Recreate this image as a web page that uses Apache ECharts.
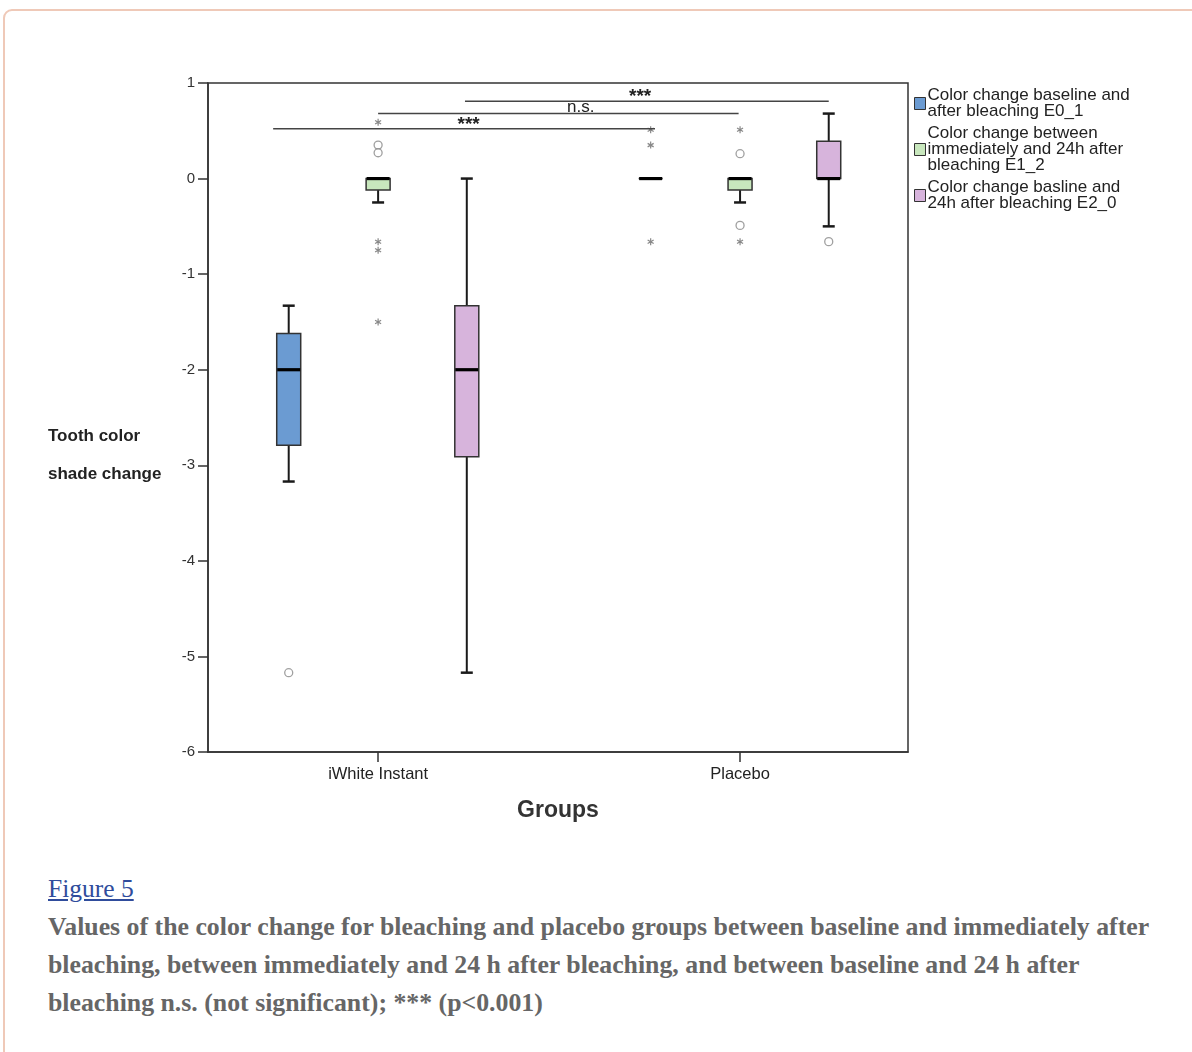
<!DOCTYPE html>
<html><head><meta charset="utf-8">
<script src="https://cdn.jsdelivr.net/npm/echarts@6/dist/echarts.min.js"></script>
<style>
html,body{margin:0;padding:0;background:#fff;width:1192px;height:1052px;overflow:hidden;position:relative;}
#frame{position:absolute;left:3px;top:9px;width:1200px;height:1100px;border:2px solid #efc9b8;border-radius:9px;box-sizing:border-box;}
#chart{position:absolute;left:0;top:0;width:1192px;height:860px;}
#caption{position:absolute;left:48px;top:870px;width:1140px;font-family:"Liberation Serif","Times New Roman",serif;}
#figlink{color:#2f4c9c;text-decoration:underline;font-size:25.5px;line-height:38px;}
#captext{color:#666;font-weight:bold;font-size:25.8px;line-height:38px;white-space:nowrap;}
</style></head>
<body>
<div id="frame"></div>
<div id="chart"></div>
<div id="caption">
<div id="figlink">Figure 5</div>
<div id="captext">Values of the color change for bleaching and placebo groups between baseline and immediately after<br>bleaching, between immediately and 24 h after bleaching, and between baseline and 24 h after<br>bleaching n.s. (not significant); *** (p&lt;0.001)</div>
</div>
<script>
// ---- data ----
const groups = ['iWhite Instant', 'Placebo'];
const seriesNames = [
  'Color change baseline and\nafter bleaching E0_1',
  'Color change between\nimmediately and 24h after\nbleaching E1_2',
  'Color change basline and\n24h after bleaching E2_0'
];
// box statistics per group: [min, Q1, median, Q3, max]
const boxE01 = [[-3.17, -2.79, -2.0, -1.62, -1.33], [0, 0, 0, 0, 0]];
const boxE12 = [[-0.25, -0.12, 0, 0, 0], [-0.25, -0.12, 0, 0, 0]];
const boxE20 = [[-5.17, -2.91, -2.0, -1.33, 0], [-0.5, 0, 0, 0.39, 0.68]];
// outliers (circles) and extremes (stars) per group
const circlesE01 = [[-5.17], []];
const starsE01 = [[], [0.51, 0.35, -0.66]];
const circlesE12 = [[0.35, 0.27], [0.26, -0.49]];
const starsE12 = [[0.59, -0.66, -0.75, -1.5], [0.51, -0.66]];
const circlesE20 = [[], [-0.66]];
const starsE20 = [[], []];
// significance bars: x start, x end, y level, label x
const sigStart = [-0.29, 0, 0.24];
const sigEnd = [0.765, 0.996, 1.245];
const sigLevel = [0.52, 0.68, 0.81];
const sigLabelX = [0.25, 0.56, 0.724];
const sigLabels = ['***', 'n.s.', '***'];
const yTicks = [-6, -5, -4, -3, -2, -1, 0, 1];

// ---- styling ----
const fills = ['#6b9bd2', '#c8e7bd', '#d7b4dc'];
const seriesOffset = [-0.247, 0, 0.245];
const FONT = '"Liberation Sans", Arial, sans-serif';

const boxSets = [boxE01, boxE12, boxE20];
const circleSets = [circlesE01, circlesE12, circlesE20];
const starSets = [starsE01, starsE12, starsE20];

function renderBox(params, api) {
  const x = api.value(0);
  const p = [1, 2, 3, 4, 5].map(i => api.coord([x, api.value(i)]));
  const cx = p[0][0];
  const yMin = p[0][1], yQ1 = p[1][1], yMed = p[2][1], yQ3 = p[3][1], yMax = p[4][1];
  const hw = 12, cap = 6;
  const ln = { stroke: '#1a1a1a', lineWidth: 2 };
  return {
    type: 'group',
    children: [
      { type: 'line', shape: { x1: cx, y1: yMax, x2: cx, y2: yQ3 }, style: ln },
      { type: 'line', shape: { x1: cx, y1: yQ1, x2: cx, y2: yMin }, style: ln },
      { type: 'line', shape: { x1: cx - cap, y1: yMax, x2: cx + cap, y2: yMax }, style: { stroke: '#1a1a1a', lineWidth: 2.5 } },
      { type: 'line', shape: { x1: cx - cap, y1: yMin, x2: cx + cap, y2: yMin }, style: { stroke: '#1a1a1a', lineWidth: 2.5 } },
      { type: 'rect', shape: { x: cx - hw, y: yQ3, width: 2 * hw, height: yQ1 - yQ3 }, style: { fill: fills[params.seriesIndex], stroke: '#333', lineWidth: 1.5 } },
      { type: 'line', shape: { x1: cx - hw + 0.5, y1: yMed, x2: cx + hw - 0.5, y2: yMed }, style: { stroke: '#000', lineWidth: 3.2 } }
    ]
  };
}

function renderSig(params, api) {
  const a = api.coord([api.value(0), api.value(2)]);
  const b = api.coord([api.value(1), api.value(2)]);
  const t = api.coord([api.value(3), api.value(2)]);
  const lbl = sigLabels[params.dataIndex];
  const stars = lbl.indexOf('*') >= 0;
  return {
    type: 'group',
    children: [
      { type: 'line', shape: { x1: a[0], y1: a[1], x2: b[0], y2: b[1] }, style: { stroke: '#444', lineWidth: 1.5 } },
      { type: 'text', x: t[0], y: t[1] + (stars ? 5 : 2), style: { text: lbl, fill: '#222', font: (stars ? 'bold 19px ' : '17px ') + FONT, align: 'center', verticalAlign: 'bottom' } }
    ]
  };
}

const series = [];
boxSets.forEach((set, si) => {
  series.push({
    type: 'custom',
    name: seriesNames[si],
    renderItem: renderBox,
    itemStyle: { color: fills[si], borderColor: '#333', borderWidth: 1 },
    encode: { x: 0, y: [1, 2, 3, 4, 5] },
    data: set.map((b, gi) => [gi + seriesOffset[si]].concat(b)),
    z: 3
  });
});
circleSets.forEach((set, si) => {
  const pts = [];
  set.forEach((vals, gi) => vals.forEach(v => pts.push([gi + seriesOffset[si], v])));
  series.push({
    type: 'scatter', symbol: 'circle', symbolSize: 8,
    itemStyle: { color: '#fff', borderColor: '#888', borderWidth: 1.3 },
    data: pts, z: 4
  });
});
starSets.forEach((set, si) => {
  const pts = [];
  set.forEach((vals, gi) => vals.forEach(v => pts.push([gi + seriesOffset[si], v])));
  series.push({
    type: 'scatter', symbol: 'path://M5,0L5,10M0.7,2.5L9.3,7.5M0.7,7.5L9.3,2.5', symbolSize: 7, symbolKeepAspect: true,
    itemStyle: { color: 'none', borderColor: '#6a6a6a', borderWidth: 1.2 },
    data: pts, z: 4
  });
});
series.push({
  type: 'custom',
  renderItem: renderSig,
  encode: { x: [0, 1, 3], y: 2 },
  data: sigStart.map((s, i) => [s, sigEnd[i], sigLevel[i], sigLabelX[i]]),
  z: 5
});

const chart = echarts.init(document.getElementById('chart'), null, { renderer: 'canvas' });
chart.setOption({
  animation: false,
  backgroundColor: 'transparent',
  textStyle: { fontFamily: FONT },
  grid: { left: 208, right: 284, top: 83, bottom: 108, show: true, borderColor: '#333', borderWidth: 1.5, backgroundColor: 'transparent' },
  legend: {
    orient: 'vertical', left: 909, top: 82,
    icon: 'rect', itemWidth: 11, itemHeight: 12, itemGap: 5,
    textStyle: { fontSize: 17, lineHeight: 16, color: '#222', fontFamily: FONT, padding: [0, 0, 0, -3] },
    data: seriesNames.map((n, i) => ({ name: n, itemStyle: { color: fills[i], borderColor: '#333', borderWidth: 1 } }))
  },
  xAxis: {
    type: 'value', min: -0.47, max: 1.464,
    name: 'Groups', nameLocation: 'middle', nameGap: 47,
    nameTextStyle: { fontSize: 23, fontWeight: 'bold', color: '#333', fontFamily: FONT },
    axisLine: { show: true, onZero: false, lineStyle: { color: '#333', width: 1.5 } },
    axisTick: { show: true, length: 10, customValues: [0, 1], lineStyle: { color: '#333', width: 1.5 } },
    axisLabel: { margin: 14, fontSize: 16.5, color: '#222', customValues: [0, 1], formatter: v => groups[Math.round(v)] },
    splitLine: { show: false }
  },
  yAxis: {
    type: 'value', min: yTicks[0], max: yTicks[yTicks.length - 1], interval: 1,
    name: 'Tooth color\nshade change', nameLocation: 'middle', nameRotate: 0, nameGap: 160,
    nameTextStyle: { align: 'left', verticalAlign: 'top', fontSize: 17, fontWeight: 'bold', color: '#222', lineHeight: 38, fontFamily: FONT },
    axisLine: { show: true, onZero: false, lineStyle: { color: '#333', width: 1.5 } },
    axisTick: { show: true, length: 10, lineStyle: { color: '#333', width: 1.5 } },
    axisLabel: { margin: 13, fontSize: 15, color: '#333' },
    splitLine: { show: false }
  },
  series: series
});
</script>
</body></html>
